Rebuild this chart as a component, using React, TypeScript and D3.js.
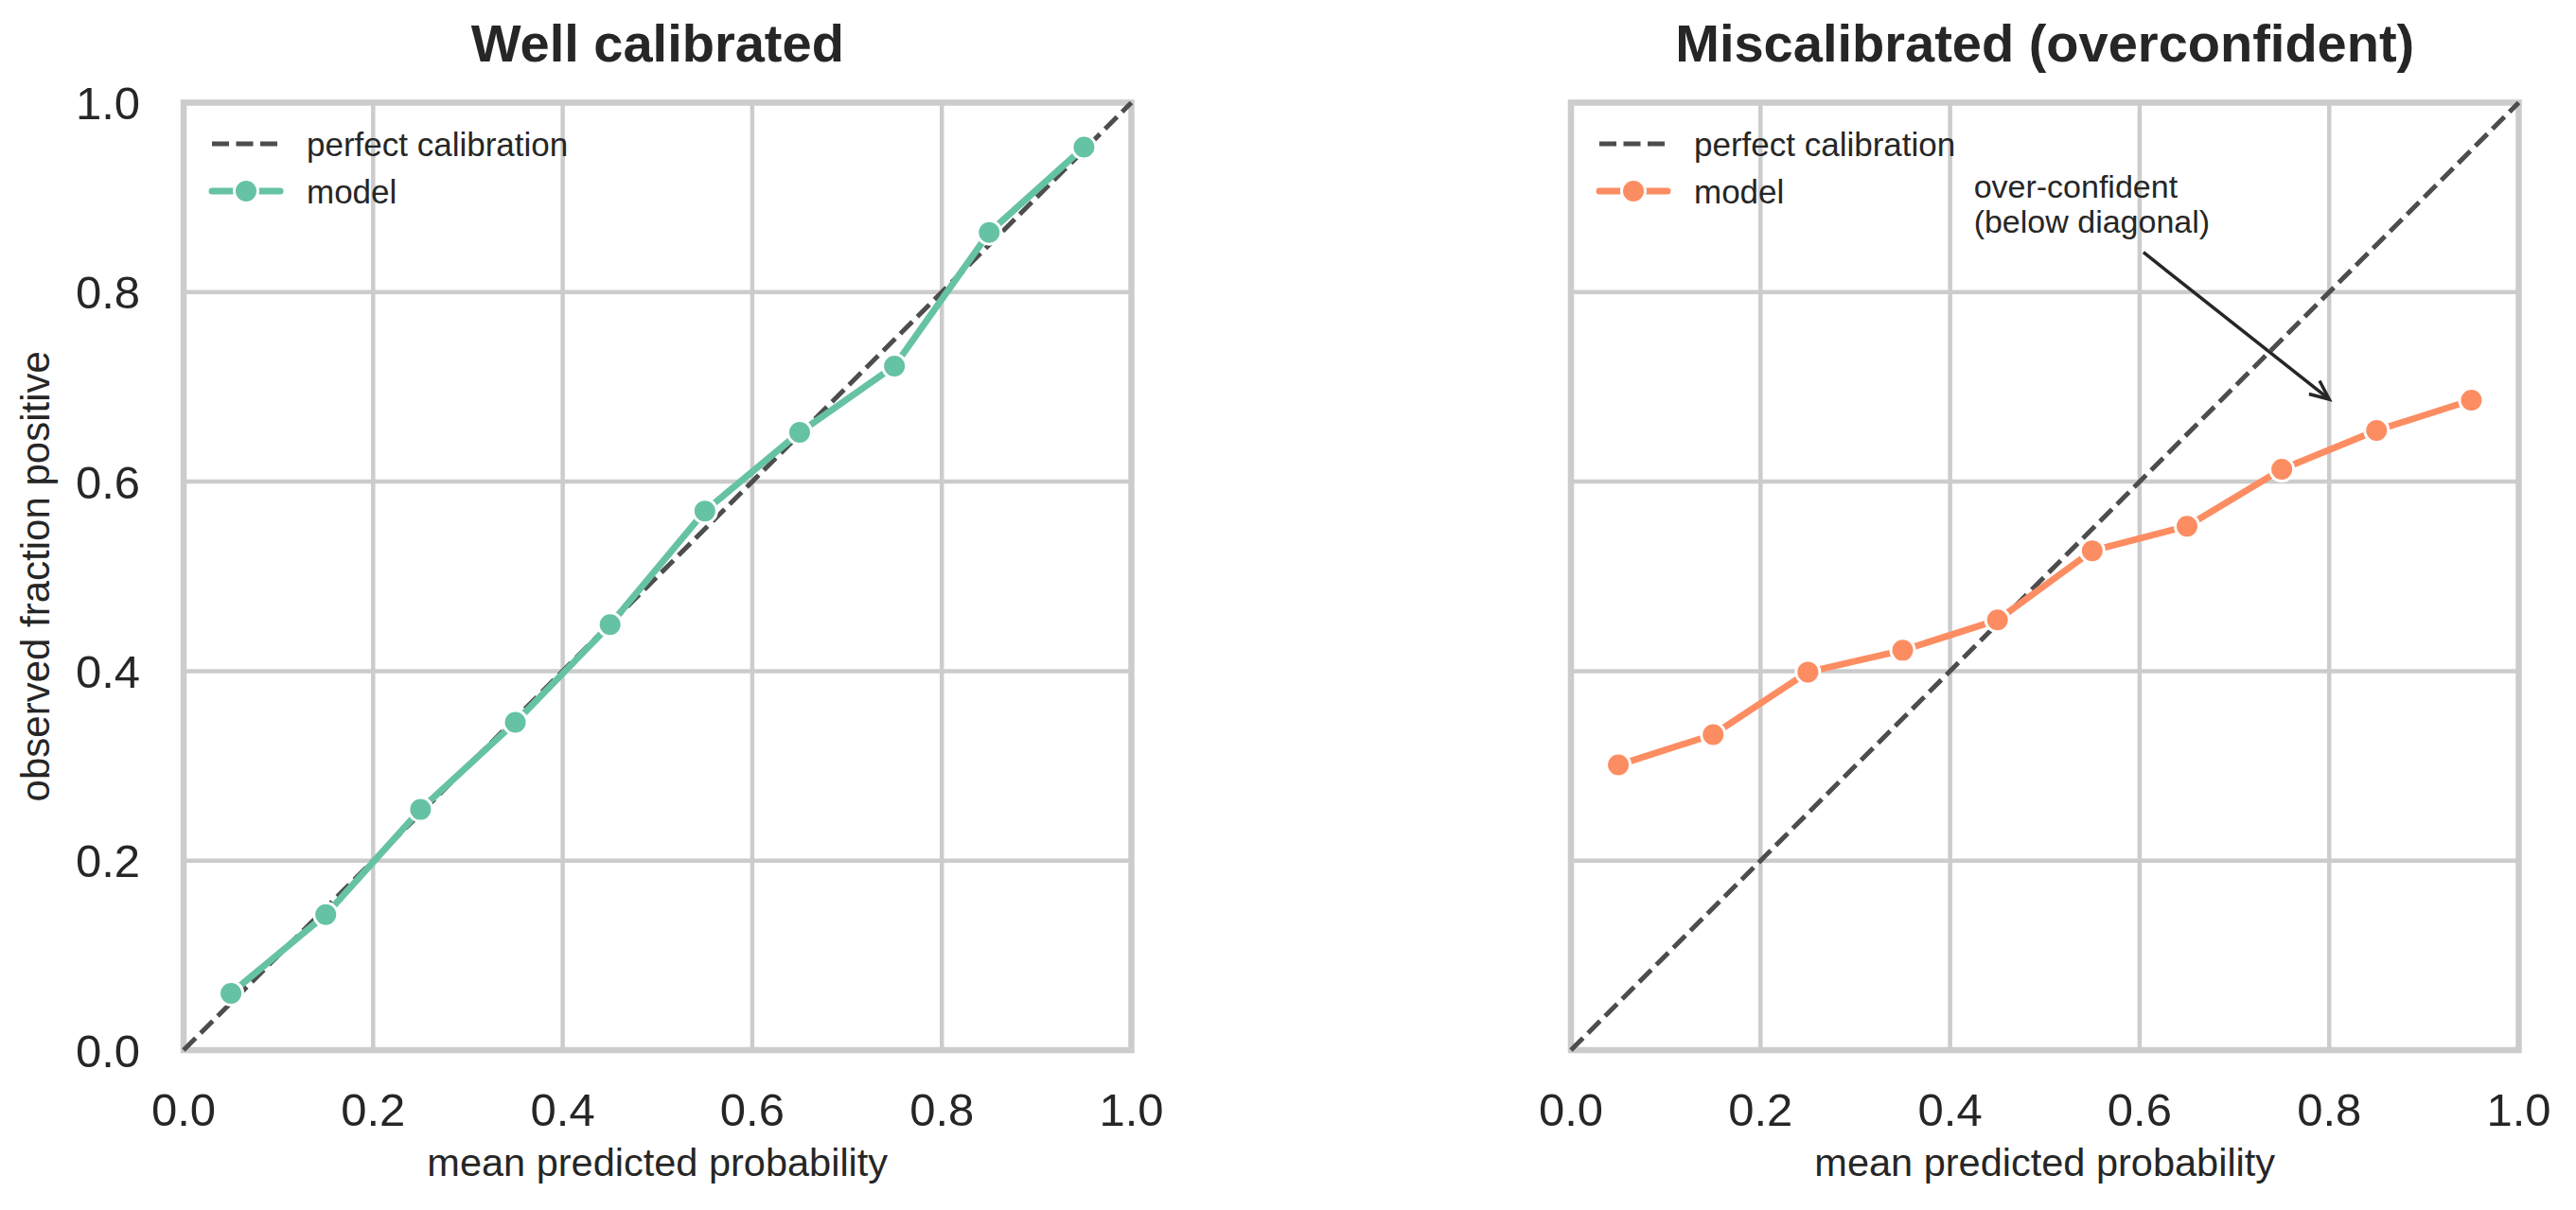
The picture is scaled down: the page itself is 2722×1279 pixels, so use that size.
import * as d3 from "d3";

// bin centres shared by both panels
const BIN_CENTERS = [0.05, 0.15, 0.25, 0.35, 0.45, 0.55, 0.65, 0.75, 0.85, 0.95];
const WELL_CALIBRATED = [0.06, 0.143, 0.254, 0.346, 0.449, 0.569, 0.652, 0.722, 0.863, 0.953];
const OVERCONFIDENT = [0.301, 0.333, 0.399, 0.422, 0.454, 0.527, 0.553, 0.613, 0.654, 0.686];
const TICKS = [0, 0.2, 0.4, 0.6, 0.8, 1.0];
const DIAGONAL = [0, 1];

const PANELS = [
  { title: "Well calibrated", values: WELL_CALIBRATED, color: "#66c2a5", left: 194, showY: true, note: false },
  { title: "Miscalibrated (overconfident)", values: OVERCONFIDENT, color: "#fc8d62", left: 1660, showY: false, note: true },
];

// annotation in data units: text anchor, arrow tail, arrow head
const NOTE_LINES = ["over-confident", "(below diagonal)"];
const NOTE_TEXT = { x: 0.425, y: 0.9 };
const NOTE_TAIL = { x: 0.604, y: 0.842 };
const NOTE_HEAD = { x: 0.8, y: 0.687 };

const W = 2722;
const H = 1279;
const SIZE = 1001.5;
const TOP = 108.5;
const FONT = "'Liberation Sans', Arial, sans-serif";
const TEXT = "#262626";
const GRID = "#cccccc";
const DASH = "#4d4d4d";

function Panel({ p }: { p: (typeof PANELS)[number] }) {
  const x = d3.scaleLinear().domain([0, 1]).range([p.left, p.left + SIZE]);
  const y = d3.scaleLinear().domain([0, 1]).range([TOP + SIZE, TOP]);
  const pts = BIN_CENTERS.map((c, i) => [c, p.values[i]] as [number, number]);
  const line = d3.line<[number, number]>().x((d) => x(d[0])).y((d) => y(d[1]));
  const diag = line(DIAGONAL.map((v) => [v, v] as [number, number])) as string;
  const cx = (x(0) + x(1)) / 2;
  const lx = p.left + 30;

  let arrow = null;
  if (p.note) {
    const hx = x(NOTE_HEAD.x), hy = y(NOTE_HEAD.y);
    const tx = x(NOTE_TAIL.x), ty = y(NOTE_TAIL.y);
    const ang = Math.atan2(hy - ty, hx - tx);
    const len = 22, spread = 0.42;
    const a1 = [hx - len * Math.cos(ang - spread), hy - len * Math.sin(ang - spread)];
    const a2 = [hx - len * Math.cos(ang + spread), hy - len * Math.sin(ang + spread)];
    arrow = (
      <g>
        <text x={x(NOTE_TEXT.x)} y={y(NOTE_TEXT.y)} fontSize={34} fill={TEXT} fontFamily={FONT}>
          {NOTE_LINES.map((l, i) => (
            <tspan key={i} x={x(NOTE_TEXT.x)} dy={i === 0 ? 0 : 37}>{l}</tspan>
          ))}
        </text>
        <line x1={tx} y1={ty} x2={hx} y2={hy} stroke={TEXT} strokeWidth={3.5} />
        <path d={`M${a1[0]},${a1[1]}L${hx},${hy}L${a2[0]},${a2[1]}`} fill="none" stroke={TEXT} strokeWidth={3.5} />
      </g>
    );
  }

  return (
    <g fontFamily={FONT}>
      <text x={cx} y={65} textAnchor="middle" fontSize={56} fontWeight="bold" fill={TEXT}>{p.title}</text>
      {TICKS.map((t) => (
        <g key={t}>
          <line x1={x(t)} x2={x(t)} y1={y(0)} y2={y(1)} stroke={GRID} strokeWidth={4.5} />
          <line x1={x(0)} x2={x(1)} y1={y(t)} y2={y(t)} stroke={GRID} strokeWidth={4.5} />
          <text x={x(t)} y={1190} textAnchor="middle" fontSize={49} fill={TEXT}>{d3.format(".1f")(t)}</text>
          {p.showY && (
            <text x={148} y={y(t)} dy="0.36em" textAnchor="end" fontSize={49} fill={TEXT}>{d3.format(".1f")(t)}</text>
          )}
        </g>
      ))}
      <rect x={x(0)} y={y(1)} width={SIZE} height={SIZE} fill="none" stroke={GRID} strokeWidth={6.5} />
      <path d={diag} fill="none" stroke={DASH} strokeWidth={5} strokeDasharray="18,7.5" />
      <path d={line(pts) as string} fill="none" stroke={p.color} strokeWidth={7} strokeLinejoin="round" />
      {pts.map((d, i) => (
        <circle key={i} cx={x(d[0])} cy={y(d[1])} r={12.5} fill={p.color} stroke="#ffffff" strokeWidth={3} />
      ))}
      <text x={cx} y={1243} textAnchor="middle" fontSize={41.5} fill={TEXT}>mean predicted probability</text>
      {p.showY && (
        <text transform={`translate(52,${(y(0) + y(1)) / 2}) rotate(-90)`} textAnchor="middle" fontSize={42} fill={TEXT}>
          observed fraction positive
        </text>
      )}
      {/* legend */}
      <line x1={lx} x2={lx + 72} y1={152} y2={152} stroke={DASH} strokeWidth={5} strokeDasharray="18,7.5" />
      <text x={lx + 100} y={152} dy="0.36em" fontSize={35} fill={TEXT}>perfect calibration</text>
      <line x1={lx} x2={lx + 72} y1={202} y2={202} stroke={p.color} strokeWidth={7} strokeLinecap="round" />
      <circle cx={lx + 36} cy={202} r={12.5} fill={p.color} stroke="#ffffff" strokeWidth={3} />
      <text x={lx + 100} y={202} dy="0.36em" fontSize={35} fill={TEXT}>model</text>
      {arrow}
    </g>
  );
}

export default function App() {
  return (
    <div style={{ position: "absolute", left: 0, top: 0 }}>
      <svg width={W} height={H} viewBox={`0 0 ${W} ${H}`} style={{ display: "block", background: "#ffffff" }}>
        {PANELS.map((p) => (
          <Panel key={p.title} p={p} />
        ))}
      </svg>
    </div>
  );
}
